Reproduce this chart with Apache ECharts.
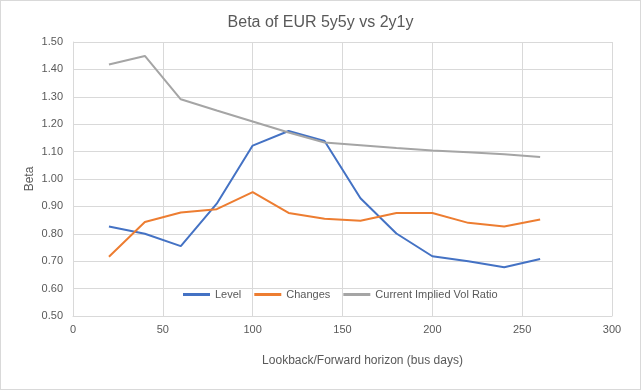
<!DOCTYPE html>
<html>
<head>
<meta charset="utf-8">
<script src="https://cdn.jsdelivr.net/npm/echarts@6/dist/echarts.min.js"></script>
<style>
html,body{margin:0;padding:0;background:#fff;}
#wrap{position:relative;width:641px;height:390px;}
#chart{position:absolute;left:0;top:0;width:641px;height:390px;}
#frame{position:absolute;left:0;top:0;width:639px;height:388px;border:1px solid #d9d9d9;pointer-events:none;}
</style>
</head>
<body>
<div id="wrap"><div id="chart"></div><div id="frame"></div></div>
<script>
const horizon = [20, 40, 60, 80, 100, 120, 140, 160, 180, 200, 220, 240, 260];
const level   = [0.827, 0.800, 0.755, 0.910, 1.122, 1.175, 1.139, 0.930, 0.801, 0.718, 0.700, 0.678, 0.708];
const changes = [0.716, 0.843, 0.878, 0.890, 0.952, 0.876, 0.855, 0.848, 0.876, 0.876, 0.840, 0.827, 0.852];
const volRatio = [1.418, 1.449, 1.291, 1.250, 1.210, 1.170, 1.133, 1.123, 1.113, 1.104, 1.098, 1.090, 1.080];
const seriesNames = ['Level', 'Changes', 'Current Implied Vol Ratio'];
const titleText = 'Beta of EUR 5y5y vs 2y1y';
const xName = 'Lookback/Forward horizon (bus days)';
const yName = 'Beta';

const pair = (xs, ys) => xs.map((x, i) => [x, ys[i]]);
const font = 'Liberation Sans';
const chart = echarts.init(document.getElementById('chart'));
chart.setOption({
  animation: false,
  title: {
    text: titleText, left: 'center', top: 15, padding: 0,
    textStyle: { fontFamily: font, fontSize: 16, fontWeight: 'normal', color: '#595959' }
  },
  grid: { left: 73, right: 29, top: 42, bottom: 74 },
  legend: {
    left: 183, top: 289, padding: 0, itemGap: 13,
    itemWidth: 27, itemHeight: 3, icon: 'rect',
    textStyle: { fontFamily: font, fontSize: 11, color: '#595959' },
    data: seriesNames
  },
  xAxis: {
    type: 'value', min: 0, max: 300, interval: 50,
    name: xName, nameLocation: 'middle', nameGap: 39,
    nameTextStyle: { fontFamily: font, fontSize: 12, color: '#595959', padding: [0, 0, 0, 40] },
    axisLine: { show: true, lineStyle: { color: '#d9d9d9', width: 1 } },
    axisTick: { show: false },
    axisLabel: { fontFamily: font, fontSize: 11, color: '#595959', margin: 8 },
    splitLine: { show: true, lineStyle: { color: '#d9d9d9', width: 1 } }
  },
  yAxis: {
    type: 'value', min: 0.5, max: 1.5, interval: 0.1,
    name: yName, nameLocation: 'middle', nameGap: 37, nameRotate: 90, nameMoveOverlap: false,
    nameTextStyle: { fontFamily: font, fontSize: 12, color: '#595959' },
    axisLine: { show: true, lineStyle: { color: '#d9d9d9', width: 1 } },
    axisTick: { show: false },
    axisLabel: { fontFamily: font, fontSize: 11, color: '#595959', margin: 10,
      formatter: v => v.toFixed(2) },
    splitLine: { show: true, lineStyle: { color: '#d9d9d9', width: 1 } }
  },
  series: [
    { name: seriesNames[0], type: 'line', data: pair(horizon, level), showSymbol: false, symbol: 'none',
      lineStyle: { color: '#4472C4', width: 2 }, itemStyle: { color: '#4472C4' } },
    { name: seriesNames[1], type: 'line', data: pair(horizon, changes), showSymbol: false, symbol: 'none',
      lineStyle: { color: '#ED7D31', width: 2 }, itemStyle: { color: '#ED7D31' } },
    { name: seriesNames[2], type: 'line', data: pair(horizon, volRatio), showSymbol: false, symbol: 'none',
      lineStyle: { color: '#A5A5A5', width: 2 }, itemStyle: { color: '#A5A5A5' } }
  ]
});
</script>
</body>
</html>
